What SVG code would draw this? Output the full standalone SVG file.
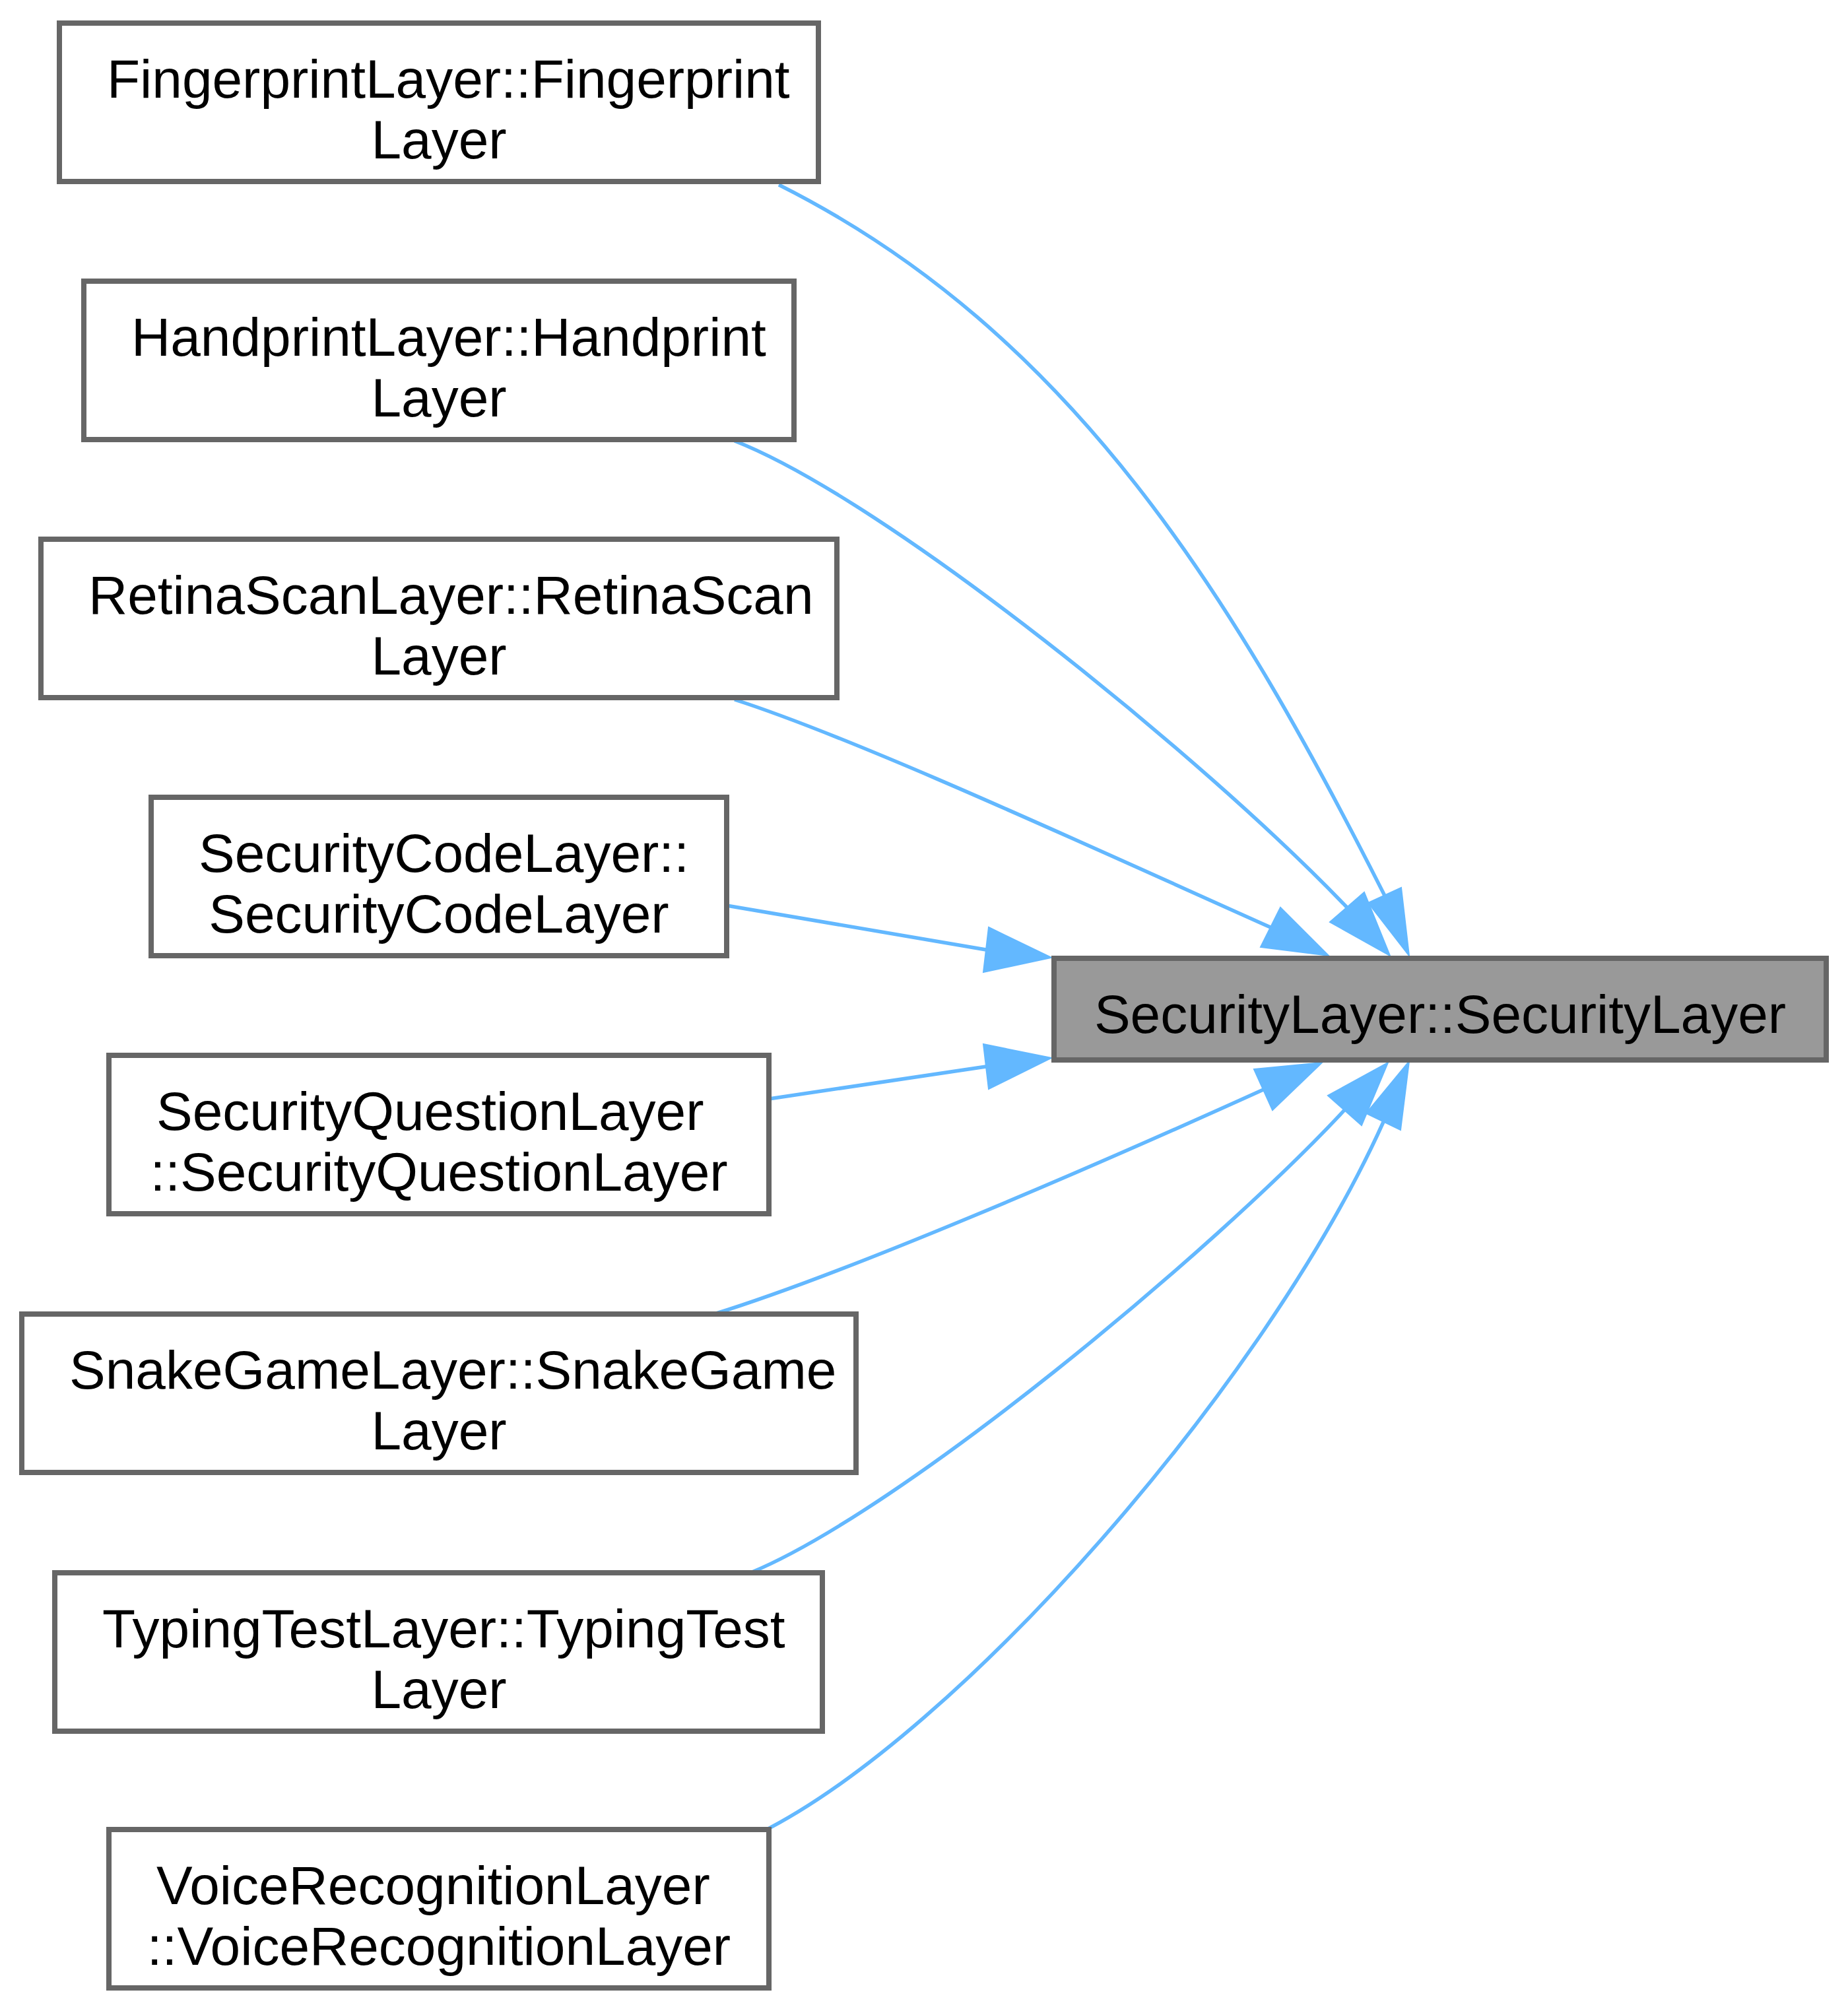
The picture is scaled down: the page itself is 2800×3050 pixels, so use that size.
<svg xmlns="http://www.w3.org/2000/svg" width="2800" height="3050" viewBox="0 0 2800 3050">
<style>
.box{fill:#ffffff;stroke:#666666;stroke-width:8}
.main{fill:#999999;stroke:#666666;stroke-width:8}
.t{font-family:"Liberation Sans",Arial,Helvetica,sans-serif;font-size:82px;fill:#000000}
.e{fill:none;stroke:#63b8ff;stroke-width:5.5}
.ah{fill:#63b8ff;stroke:#63b8ff;stroke-width:2}
</style>
<rect x="0" y="0" width="2800" height="3050" fill="#ffffff"/>
<g id="edges">
<path class="e" d="M1180,280 C1627,504 1873,912 2098,1357"/>
<polygon class="ah" points="2073,1368 2123,1345 2135,1448"/>
<path class="e" d="M1113,668 C1343,758 1821,1145 2041,1375"/>
<polygon class="ah" points="2015,1397 2067,1352 2106,1448"/>
<path class="e" d="M1113,1060 C1300,1120 1650,1282 1925,1405"/>
<polygon class="ah" points="1910,1435 1940,1375 2013,1448"/>
<path class="e" d="M1101,1372 L1494,1439"/>
<polygon class="ah" points="1498,1405 1593,1451 1490,1473"/>
<path class="e" d="M1165,1665 L1494,1616"/>
<polygon class="ah" points="1490,1582 1593,1603 1498,1650"/>
<path class="e" d="M1082,1991 C1282,1929 1640,1775 1914,1651"/>
<polygon class="ah" points="1900,1620 2003,1610 1928,1682"/>
<path class="e" d="M1137,2383 C1367,2288 1837,1897 2037,1682"/>
<polygon class="ah" points="2012,1660 2103,1610 2063,1705"/>
<path class="e" d="M1152,2777 C1452,2627 1916,2100 2096,1700"/>
<polygon class="ah" points="2070,1687 2135,1608 2122,1712"/>
</g>
<g id="node1">
<rect class="main" x="1597" y="1452" width="1170" height="154"/>
<text class="t" x="2182" y="1565" text-anchor="middle">SecurityLayer::SecurityLayer</text>
</g>
<g id="node2">
<rect class="box" x="90" y="35" width="1150" height="240"/>
<text class="t" x="162" y="148">FingerprintLayer::Fingerprint</text>
<text class="t" x="665" y="240" text-anchor="middle">Layer</text>
</g>
<g id="node3">
<rect class="box" x="127" y="426" width="1076" height="240"/>
<text class="t" x="199" y="539">HandprintLayer::Handprint</text>
<text class="t" x="665" y="631" text-anchor="middle">Layer</text>
</g>
<g id="node4">
<rect class="box" x="62" y="817" width="1206" height="240"/>
<text class="t" x="134" y="930">RetinaScanLayer::RetinaScan</text>
<text class="t" x="665" y="1022" text-anchor="middle">Layer</text>
</g>
<g id="node5">
<rect class="box" x="229" y="1208" width="872" height="240"/>
<text class="t" x="301" y="1321">SecurityCodeLayer::</text>
<text class="t" x="665" y="1413" text-anchor="middle">SecurityCodeLayer</text>
</g>
<g id="node6">
<rect class="box" x="165" y="1599" width="1000" height="240"/>
<text class="t" x="237" y="1712">SecurityQuestionLayer</text>
<text class="t" x="665" y="1804" text-anchor="middle">::SecurityQuestionLayer</text>
</g>
<g id="node7">
<rect class="box" x="33" y="1991" width="1264" height="240"/>
<text class="t" x="105" y="2104">SnakeGameLayer::SnakeGame</text>
<text class="t" x="665" y="2196" text-anchor="middle">Layer</text>
</g>
<g id="node8">
<rect class="box" x="83" y="2383" width="1163" height="240"/>
<text class="t" x="155" y="2496">TypingTestLayer::TypingTest</text>
<text class="t" x="665" y="2588" text-anchor="middle">Layer</text>
</g>
<g id="node9">
<rect class="box" x="165" y="2772" width="1000" height="240"/>
<text class="t" x="237" y="2885">VoiceRecognitionLayer</text>
<text class="t" x="665" y="2977" text-anchor="middle">::VoiceRecognitionLayer</text>
</g>
</svg>
